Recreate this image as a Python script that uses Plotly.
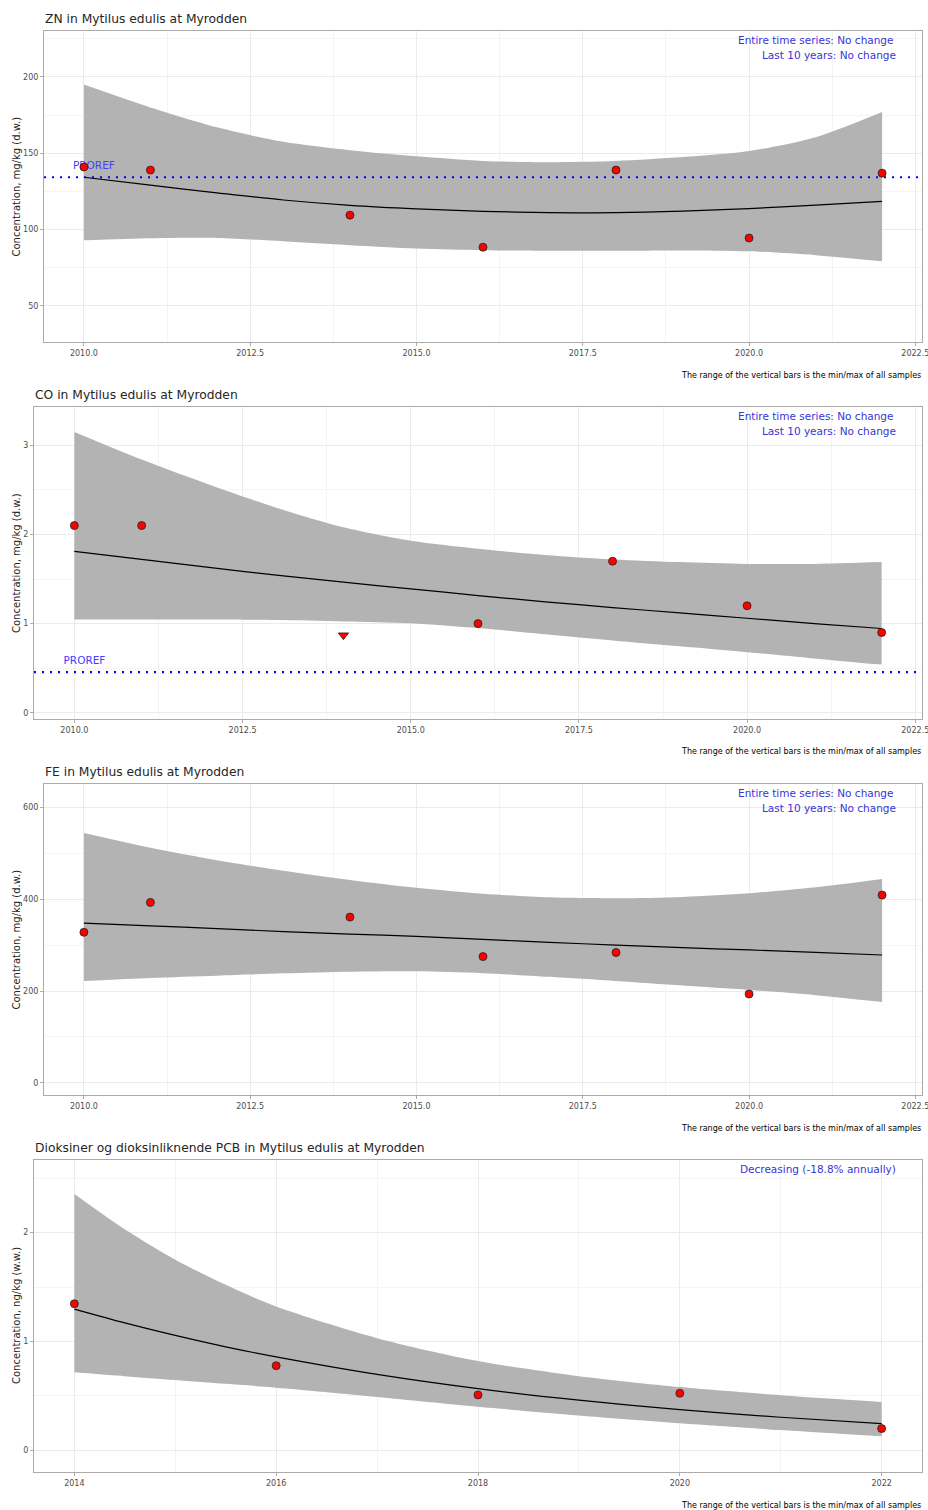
import plotly.graph_objects as go

W, H = 928, 1510

# ---------------- data ----------------
# ZN
zn_years = [2010, 2011, 2014, 2016, 2018, 2020, 2022]
zn_values = [141.0, 139.0, 109.5, 88.5, 139.0, 94.5, 137.0]
zn_proref = 134.3
zn_fit_years = [2010, 2011, 2012, 2013, 2014, 2015, 2016, 2017, 2018, 2019, 2020, 2021, 2022]
zn_fit = [134.3, 129.1, 124.1, 119.4, 115.9, 113.6, 112.0, 111.2, 111.1, 112.1, 113.8, 116.0, 118.5]
zn_upper = [195.0, 180.0, 167.0, 157.5, 152.0, 148.0, 145.0, 144.2, 145.0, 147.5, 151.5, 160.5, 177.0]
zn_lower = [93.0, 94.4, 94.6, 92.4, 89.8, 87.6, 86.5, 86.2, 86.2, 86.4, 85.8, 83.3, 79.3]

# CO
co_years = [2010, 2011, 2016, 2018, 2020, 2022]
co_values = [2.1, 2.1, 1.0, 1.7, 1.2, 0.9]
co_loq_years = [2014]
co_loq_values = [0.87]
co_proref = 0.455
co_fit_years = [2010, 2011, 2012, 2013, 2014, 2015, 2016, 2017, 2018, 2019, 2020, 2021, 2022]
co_fit = [1.81, 1.72, 1.63, 1.545, 1.465, 1.39, 1.315, 1.245, 1.18, 1.12, 1.06, 1.0, 0.945]
co_upper = [3.15, 2.84, 2.56, 2.30, 2.08, 1.93, 1.84, 1.77, 1.72, 1.69, 1.67, 1.67, 1.69]
co_lower = [1.045, 1.045, 1.045, 1.04, 1.025, 1.005, 0.95, 0.88, 0.81, 0.745, 0.68, 0.61, 0.54]

# FE
fe_years = [2010, 2011, 2014, 2016, 2018, 2020, 2022]
fe_values = [328.0, 393.0, 361.0, 275.0, 284.0, 193.5, 409.0]
fe_fit_years = [2010, 2011, 2012, 2013, 2014, 2015, 2016, 2017, 2018, 2019, 2020, 2021, 2022]
fe_fit = [347.8, 342.0, 336.0, 329.5, 324.0, 319.0, 312.5, 306.0, 300.0, 294.5, 289.5, 284.0, 278.5]
fe_upper = [544.0, 512.0, 485.0, 462.0, 442.0, 425.0, 412.0, 404.0, 402.0, 405.0, 413.0, 426.0, 444.0]
fe_lower = [222.0, 228.5, 233.5, 238.5, 242.0, 243.0, 239.0, 231.0, 222.0, 212.0, 202.5, 191.0, 176.0]

# Dioksiner
dx_years = [2014, 2016, 2018, 2020, 2022]
dx_values = [1.346, 0.777, 0.508, 0.523, 0.199]
dx_fit_years = [2014, 2014.5, 2015, 2015.5, 2016, 2017, 2018, 2019, 2020, 2021, 2022]
dx_fit = [1.297, 1.17, 1.055, 0.95, 0.858, 0.697, 0.566, 0.46, 0.373, 0.303, 0.245]
dx_upper = [2.355, 2.03, 1.75, 1.52, 1.32, 1.03, 0.82, 0.68, 0.58, 0.505, 0.443]
dx_lower = [0.716, 0.68, 0.645, 0.61, 0.575, 0.49, 0.40, 0.32, 0.248, 0.185, 0.128]

titles = [
    "ZN in Mytilus edulis at Myrodden",
    "CO in Mytilus edulis at Myrodden",
    "FE in Mytilus edulis at Myrodden",
    "Dioksiner og dioksinliknende PCB in Mytilus edulis at Myrodden",
]
y_titles = [
    "Concentration, mg/kg (d.w.)",
    "Concentration, mg/kg (d.w.)",
    "Concentration, mg/kg (d.w.)",
    "Concentration, ng/kg (w.w.)",
]
trend_texts = [
    ["Entire time series: No change", "Last 10 years: No change"],
    ["Entire time series: No change", "Last 10 years: No change"],
    ["Entire time series: No change", "Last 10 years: No change"],
    ["Decreasing (-18.8% annually)"],
]
caption = "The range of the vertical bars is the min/max of all samples"

# ---------------- layout helpers ----------------
def px(x):
    return x / W


def py(y):
    return 1 - y / H


FONT = "DejaVu Sans"
BLUE_TXT = "#3535d8"
GRID = "#ebebeb"
GRID_MINOR = "#f4f4f4"
BORDER = "#ababab"

panels = [
    dict(box=(44, 31, 922, 342), xr=[2009.4, 2022.6], yr=[26.4, 230.1],
         xt=dict(tick0=2010, dtick=2.5, fmt=".1f", minor=1.25), yt=dict(tick0=0, dtick=50, minor=25),
         years=zn_years, vals=zn_values, loqx=[], loqy=[], proref=zn_proref,
         fy=zn_fit_years, fit=zn_fit, up=zn_upper, lo=zn_lower),
    dict(box=(34, 407, 922, 719), xr=[2009.4, 2022.6], yr=[-0.07, 3.43],
         xt=dict(tick0=2010, dtick=2.5, fmt=".1f", minor=1.25), yt=dict(tick0=0, dtick=1, minor=0.5),
         years=co_years, vals=co_values, loqx=co_loq_years, loqy=co_loq_values, proref=co_proref,
         fy=co_fit_years, fit=co_fit, up=co_upper, lo=co_lower),
    dict(box=(44, 784, 922, 1095), xr=[2009.4, 2022.6], yr=[-26.4, 650.9],
         xt=dict(tick0=2010, dtick=2.5, fmt=".1f", minor=1.25), yt=dict(tick0=0, dtick=200, minor=100),
         years=fe_years, vals=fe_values, loqx=[], loqy=[], proref=None,
         fy=fe_fit_years, fit=fe_fit, up=fe_upper, lo=fe_lower),
    dict(box=(34, 1160, 922, 1472), xr=[2013.6, 2022.4], yr=[-0.2, 2.667],
         xt=dict(tick0=2014, dtick=2, fmt="d", minor=1), yt=dict(tick0=0, dtick=1, minor=0.5),
         years=dx_years, vals=dx_values, loqx=[], loqy=[], proref=None,
         fy=dx_fit_years, fit=dx_fit, up=dx_upper, lo=dx_lower),
]

fig = go.Figure()
annotations = []
layout_axes = {}

for i, p in enumerate(panels):
    n = i + 1
    xa = "x" if n == 1 else f"x{n}"
    ya = "y" if n == 1 else f"y{n}"
    xkey = "xaxis" if n == 1 else f"xaxis{n}"
    ykey = "yaxis" if n == 1 else f"yaxis{n}"
    x0, y0, x1, y1 = p["box"]

    # confidence band
    fig.add_trace(go.Scatter(x=p["fy"], y=p["lo"], mode="lines",
                             line=dict(width=0, shape="spline", smoothing=0.8),
                             xaxis=xa, yaxis=ya, showlegend=False, hoverinfo="skip"))
    fig.add_trace(go.Scatter(x=p["fy"], y=p["up"], mode="lines",
                             line=dict(width=0, shape="spline", smoothing=0.8),
                             fill="tonexty", fillcolor="#b3b3b3",
                             xaxis=xa, yaxis=ya, showlegend=False, hoverinfo="skip"))
    # trend
    fig.add_trace(go.Scatter(x=p["fy"], y=p["fit"], mode="lines",
                             line=dict(color="black", width=1.2, shape="spline", smoothing=0.8),
                             xaxis=xa, yaxis=ya, showlegend=False))
    # PROREF
    if p["proref"] is not None:
        fig.add_trace(go.Scatter(x=p["xr"], y=[p["proref"], p["proref"]], mode="lines",
                                 line=dict(color="#0000ff", width=2.2, dash="2px,6px"),
                                 xaxis=xa, yaxis=ya, showlegend=False))
        ypix_per = (y1 - y0) / (p["yr"][1] - p["yr"][0])
        fig.add_trace(go.Scatter(x=[2010.15], y=[p["proref"] + 11 / ypix_per], mode="text",
                                 text=["PROREF"], textposition="middle center",
                                 textfont=dict(family=FONT, size=10.5, color="#4040ff"),
                                 xaxis=xa, yaxis=ya, showlegend=False))
    # points
    fig.add_trace(go.Scatter(x=p["years"], y=p["vals"], mode="markers",
                             marker=dict(color="#ff0000", size=8, line=dict(color="#222222", width=0.8)),
                             xaxis=xa, yaxis=ya, showlegend=False))
    if p["loqx"]:
        fig.add_trace(go.Scatter(x=p["loqx"], y=p["loqy"], mode="markers",
                                 marker=dict(color="#ff0000", size=9, symbol="triangle-down",
                                             line=dict(color="#222222", width=0.8)),
                                 xaxis=xa, yaxis=ya, showlegend=False))

    common = dict(showline=True, linecolor=BORDER, linewidth=1, mirror=True,
                  ticks="outside", ticklen=3, tickcolor=BORDER, tickwidth=1,
                  showgrid=True, gridcolor=GRID, gridwidth=1, zeroline=False,
                  ticklabeloverflow="allow", automargin=False,
                  tickfont=dict(family=FONT, size=8, color="#4d4d4d"))
    layout_axes[xkey] = dict(common, domain=[px(x0), px(x1)], anchor=ya, range=p["xr"],
                             tick0=p["xt"]["tick0"], dtick=p["xt"]["dtick"],
                             tickformat=p["xt"]["fmt"],
                             minor=dict(dtick=p["xt"]["minor"], tick0=p["xt"]["tick0"],
                                        showgrid=True, gridcolor=GRID_MINOR, gridwidth=1, ticks=""))
    layout_axes[ykey] = dict(common, domain=[py(y1), py(y0)], anchor=xa, range=p["yr"],
                             tick0=p["yt"]["tick0"], dtick=p["yt"]["dtick"],
                             minor=dict(dtick=p["yt"]["minor"], tick0=p["yt"]["tick0"],
                                        showgrid=True, gridcolor=GRID_MINOR, gridwidth=1, ticks=""))

    # title
    annotations.append(dict(text=titles[i], x=px(x0 - 1), y=py(y0 - 12), xref="paper", yref="paper",
                            xanchor="left", yanchor="middle", showarrow=False,
                            font=dict(family=FONT, size=12.3, color="#262626")))
    # y title
    annotations.append(dict(text=y_titles[i], x=px(16), y=py((y0 + y1) / 2), xref="paper", yref="paper",
                            xanchor="center", yanchor="middle", showarrow=False, textangle=-90,
                            font=dict(family=FONT, size=10, color="#262626")))
    # trend texts
    for k, t in enumerate(trend_texts[i]):
        right = 898 if (k == 1 or len(trend_texts[i]) == 1) else 895.5
        annotations.append(dict(text=t, x=px(right),
                                y=py(y0 + 9 + 15 * k), xref="paper", yref="paper",
                                xanchor="right", yanchor="middle", showarrow=False,
                                font=dict(family=FONT, size=10.5, color=BLUE_TXT)))
    # caption
    annotations.append(dict(text=caption, x=px(922.5), y=py(y1 + 33), xref="paper", yref="paper",
                            xanchor="right", yanchor="middle", showarrow=False,
                            font=dict(family=FONT, size=8, color="#000000")))

fig.update_layout(
    width=W, height=H,
    margin=dict(l=0, r=0, t=0, b=0, autoexpand=False),
    paper_bgcolor="white", plot_bgcolor="white",
    showlegend=False,
    annotations=annotations,
    **layout_axes,
)

fig.write_html("out.html")
